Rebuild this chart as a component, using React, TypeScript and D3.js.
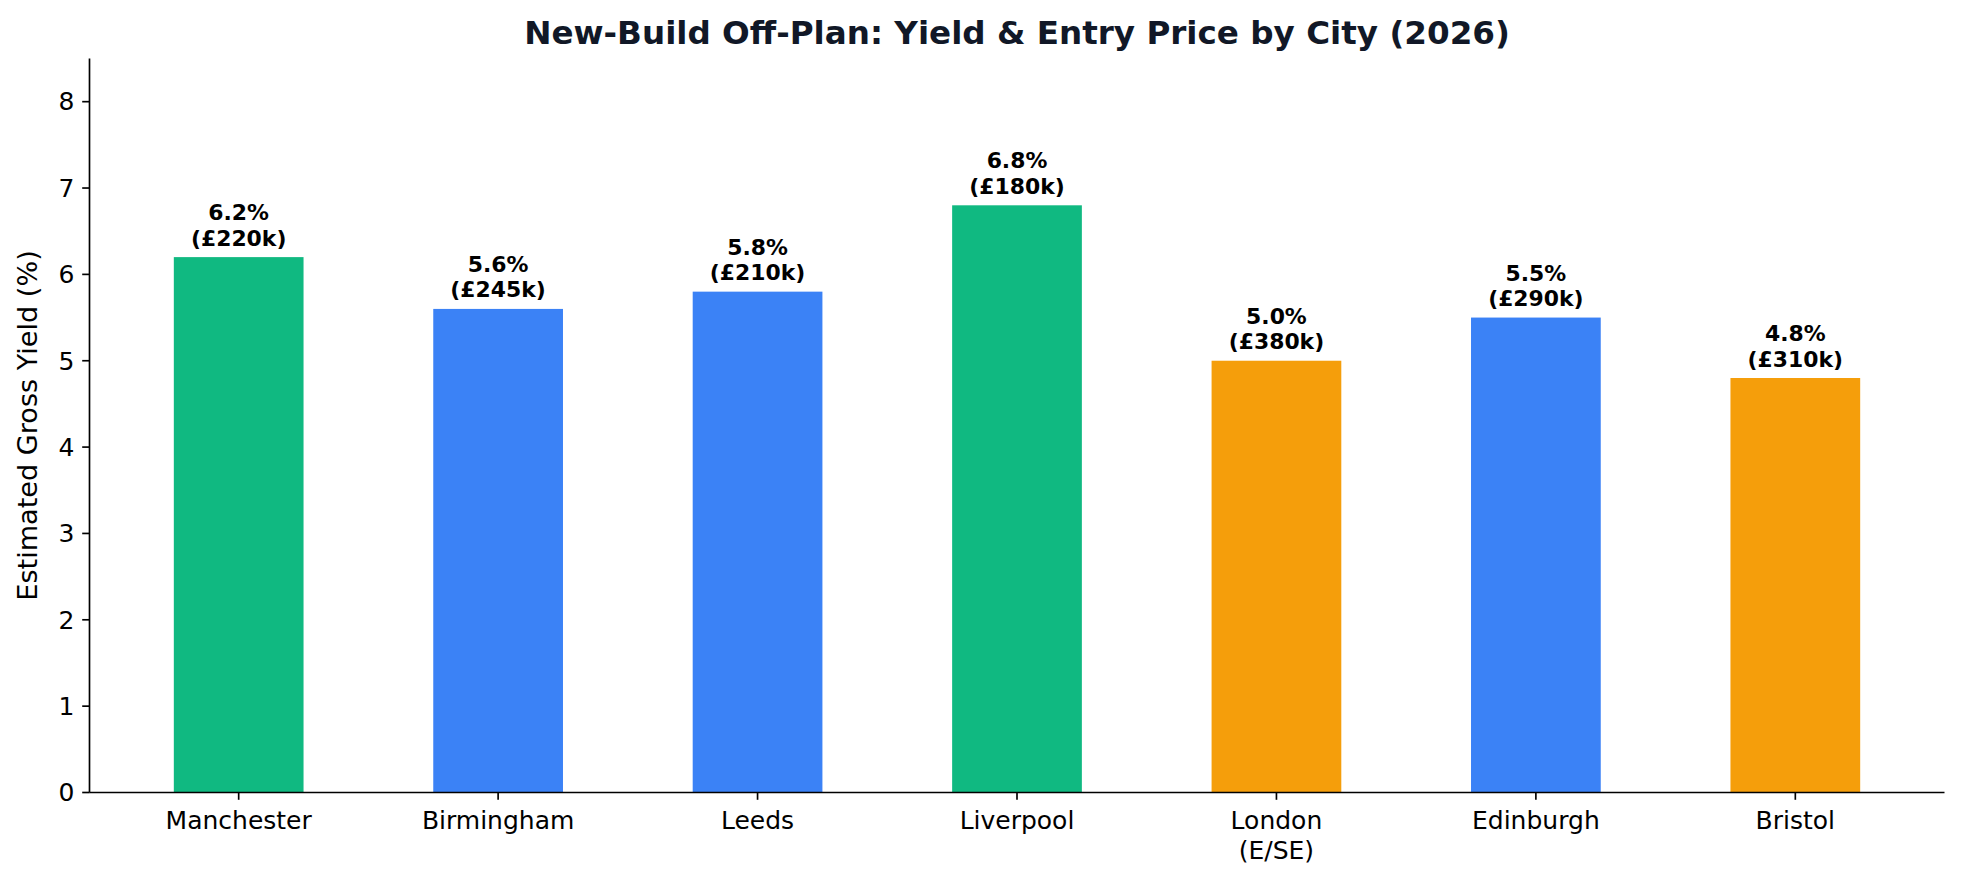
import { useEffect, useRef } from "react";
import * as d3 from "d3";

const cities = ["Manchester", "Birmingham", "Leeds", "Liverpool", "London\n(E/SE)", "Edinburgh", "Bristol"];
const yields = [6.2, 5.6, 5.8, 6.8, 5.0, 5.5, 4.8];
const entryPrices = [220, 245, 210, 180, 380, 290, 310];
const tiers = ["high", "mid", "mid", "high", "low", "mid", "low"];
const yTicks = [0, 1, 2, 3, 4, 5, 6, 7, 8];

const tierColors: Record<string, string> = {
  high: "#10b981",
  mid: "#3b82f6",
  low: "#f59e0b",
};

const W = 1963;
const H = 880;
const margin = { top: 58.5, right: 18.5, bottom: 87.5, left: 89.5 };
const font = "DejaVu Sans, sans-serif";

const App = () => {
  const svgRef = useRef<SVGSVGElement>(null);

  useEffect(() => {
    const svg = d3.select(svgRef.current);
    svg.selectAll("*").remove();

    const data = cities.map((c, i) => ({
      city: c,
      yield: yields[i],
      price: entryPrices[i],
      tier: tiers[i],
    }));

    const x = d3.scaleBand<string>()
      .domain(cities)
      .range([margin.left, W - margin.right])
      .paddingInner(0.5)
      .paddingOuter(0.325);

    const y = d3.scaleLinear()
      .domain([0, 8.5])
      .range([H - margin.bottom, margin.top]);

    // bars
    svg.append("g")
      .selectAll("rect")
      .data(data)
      .join("rect")
      .attr("x", d => x(d.city)!)
      .attr("y", d => y(d.yield))
      .attr("width", x.bandwidth())
      .attr("height", d => y(0) - y(d.yield))
      .attr("fill", d => tierColors[d.tier]);

    // value labels (two lines above each bar)
    const labels = svg.append("g")
      .selectAll("text")
      .data(data)
      .join("text")
      .attr("x", d => x(d.city)! + x.bandwidth() / 2)
      .attr("y", d => y(d.yield) - 11.5)
      .attr("text-anchor", "middle")
      .attr("font-family", font)
      .attr("font-size", 21.9)
      .attr("font-weight", "bold")
      .attr("fill", "#000");
    labels.append("tspan")
      .attr("x", d => x(d.city)! + x.bandwidth() / 2)
      .attr("dy", -25.5)
      .text(d => `${d.yield.toFixed(1)}%`);
    labels.append("tspan")
      .attr("x", d => x(d.city)! + x.bandwidth() / 2)
      .attr("dy", 25.5)
      .text(d => `(£${d.price}k)`);

    // y axis
    const yAxis = svg.append("g");
    yAxis.append("line")
      .attr("x1", margin.left).attr("x2", margin.left)
      .attr("y1", y(8.5)).attr("y2", y(0))
      .attr("stroke", "#000").attr("stroke-width", 1.67);
    yAxis.selectAll("line.tick")
      .data(yTicks)
      .join("line")
      .attr("class", "tick")
      .attr("x1", margin.left - 7.3).attr("x2", margin.left)
      .attr("y1", d => y(d)).attr("y2", d => y(d))
      .attr("stroke", "#000").attr("stroke-width", 1.67);
    yAxis.selectAll("text")
      .data(yTicks)
      .join("text")
      .attr("x", margin.left - 15)
      .attr("y", d => y(d) + 8.8)
      .attr("text-anchor", "end")
      .attr("font-family", font)
      .attr("font-size", 25)
      .attr("fill", "#000")
      .text(d => d);

    // x axis
    const xAxis = svg.append("g");
    xAxis.append("line")
      .attr("x1", margin.left).attr("x2", W - margin.right)
      .attr("y1", y(0)).attr("y2", y(0))
      .attr("stroke", "#000").attr("stroke-width", 1.67);
    xAxis.selectAll("line.tick")
      .data(cities)
      .join("line")
      .attr("class", "tick")
      .attr("x1", d => x(d)! + x.bandwidth() / 2)
      .attr("x2", d => x(d)! + x.bandwidth() / 2)
      .attr("y1", y(0)).attr("y2", y(0) + 7.3)
      .attr("stroke", "#000").attr("stroke-width", 1.67);
    const xLabels = xAxis.selectAll("text")
      .data(cities)
      .join("text")
      .attr("y", y(0) + 36.5)
      .attr("text-anchor", "middle")
      .attr("font-family", font)
      .attr("font-size", 25)
      .attr("fill", "#000");
    xLabels.selectAll("tspan")
      .data(d => d.split("\n").map(line => ({ line, c: d })))
      .join("tspan")
      .attr("x", d => x(d.c)! + x.bandwidth() / 2)
      .attr("dy", (d, i) => (i === 0 ? 0 : 29.5))
      .text(d => d.line);

    // y axis title
    svg.append("text")
      .attr("transform", `translate(37,${(y(0) + y(8.5)) / 2}) rotate(-90)`)
      .attr("text-anchor", "middle")
      .attr("font-family", font)
      .attr("font-size", 27.1)
      .attr("fill", "#000")
      .text("Estimated Gross Yield (%)");

    // chart title
    svg.append("text")
      .attr("x", (margin.left + W - margin.right) / 2)
      .attr("y", 44)
      .attr("text-anchor", "middle")
      .attr("font-family", font)
      .attr("font-size", 32.6)
      .attr("font-weight", "bold")
      .attr("fill", "#111827")
      .text("New-Build Off-Plan: Yield & Entry Price by City (2026)");
  }, []);

  return (
    <svg
      ref={svgRef}
      width={W}
      height={H}
      style={{ position: "absolute", left: 0, top: 0, background: "#fff" }}
    />
  );
};

export default App;
